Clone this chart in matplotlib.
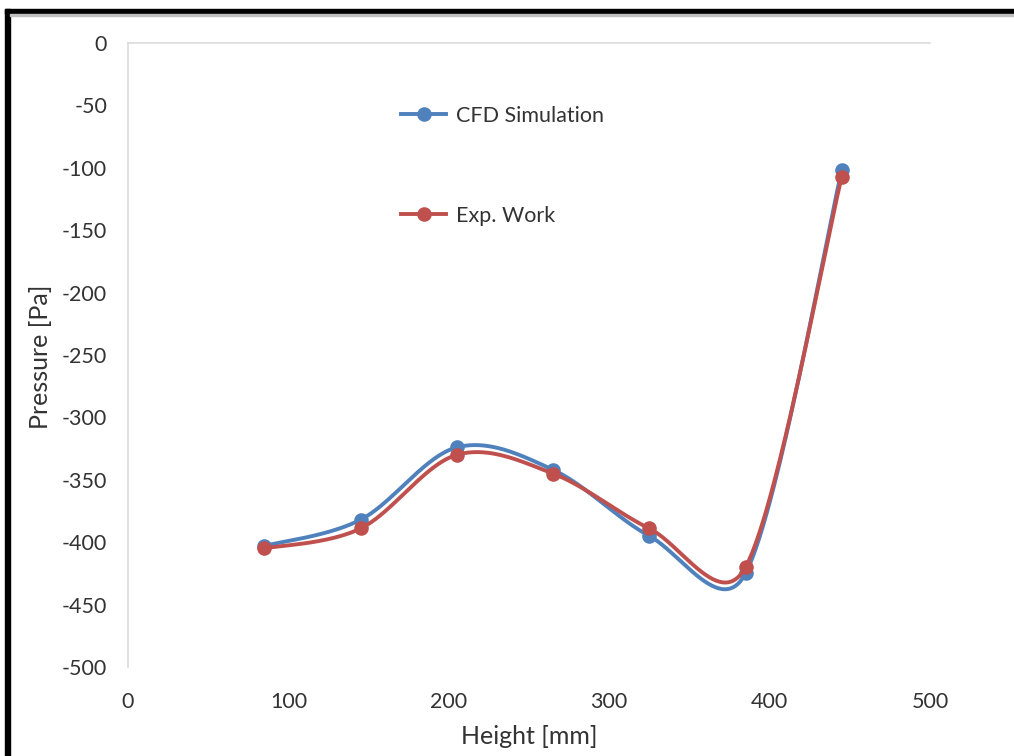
import numpy as np
import matplotlib
matplotlib.use("Agg")
import matplotlib.pyplot as plt
from matplotlib.patches import Rectangle
from matplotlib.lines import Line2D

height_mm = [85, 145, 205, 265, 325, 385, 445]
cfd_pa = [-403, -382, -324, -342, -395, -425, -102]
exp_pa = [-405, -389, -330, -345, -389, -420, -107]

x_ticks = [0, 100, 200, 300, 400, 500]
y_ticks = [0, -50, -100, -150, -200, -250, -300, -350, -400, -450, -500]

BLUE = "#4F81BD"
RED = "#C0504D"
TEXT = "#333333"
FONT = "Lato"
FS = 15.5
FS_TITLE = 18

W, H = 1014, 756
fig = plt.figure(figsize=(W / 100, H / 100), dpi=100)
ax = fig.add_axes([128 / W, (H - 667) / H, (930 - 128) / W, (667 - 43) / H])
ax.set_xlim(0, 500)
ax.set_ylim(-500, 0)


def smooth_path(xs, ys, ax, n=60):
    """Bezier smoothing in screen space, spreadsheet style (tangent clamped
    to half the segment length)."""
    pts = ax.transData.transform(np.column_stack([xs, ys]))
    m = len(pts)
    out = [pts[0]]
    for i in range(m - 1):
        p0 = pts[i - 1] if i > 0 else pts[i]
        p1 = pts[i]
        p2 = pts[i + 1]
        p3 = pts[i + 2] if i + 2 < m else pts[i + 1]
        d12 = np.linalg.norm(p2 - p1)
        t1 = p2 - p0
        t2 = p3 - p1
        n1 = np.linalg.norm(t1)
        n2 = np.linalg.norm(t2)
        c1 = p1 + (t1 / n1 * min(n1 / 6, d12 / 2) if n1 > 0 else 0)
        c2 = p2 - (t2 / n2 * min(n2 / 6, d12 / 2) if n2 > 0 else 0)
        t = np.linspace(0, 1, n)[1:, None]
        seg = ((1 - t) ** 3) * p1 + 3 * ((1 - t) ** 2) * t * c1 \
            + 3 * (1 - t) * t ** 2 * c2 + t ** 3 * p2
        out.extend(seg)
    out = np.array(out)
    data = ax.transData.inverted().transform(out)
    return data[:, 0], data[:, 1]


for ys, col, z in [(cfd_pa, BLUE, 3), (exp_pa, RED, 4)]:
    sx, sy = smooth_path(height_mm, ys, ax)
    ax.plot(sx, sy, color=col, lw=2.8, zorder=z, solid_capstyle="round")
    ax.plot(height_mm, ys, "o", color=col, ms=10.5, zorder=z + 0.1,
            markeredgewidth=0)

ax.set_xticks(x_ticks)
ax.set_yticks(y_ticks)
ax.set_xticklabels([str(v) for v in x_ticks], fontsize=FS, color=TEXT,
                   family=FONT)
ax.set_yticklabels([str(v) for v in y_ticks], fontsize=FS, color=TEXT,
                   family=FONT)
ax.tick_params(axis="both", length=0)
ax.tick_params(axis="x", pad=18)
ax.tick_params(axis="y", pad=15)

for side in ["bottom", "right"]:
    ax.spines[side].set_visible(False)
for side in ["top", "left"]:
    ax.spines[side].set_color("#D9D9D9")
    ax.spines[side].set_linewidth(1.1)

fig.text(529 / W, 1 - 736 / H, "Height [mm]", ha="center", va="center",
         fontsize=FS_TITLE, color=TEXT, family=FONT)
fig.text(40 / W, 1 - 357 / H, "Pressure [Pa]", ha="center", va="center",
         rotation=90, fontsize=FS_TITLE, color=TEXT, family=FONT)

handles = [
    Line2D([], [], color=BLUE, lw=2.8, marker="o", ms=10.5, markeredgewidth=0),
    Line2D([], [], color=RED, lw=2.8, marker="o", ms=10.5, markeredgewidth=0),
]
leg = ax.legend(handles, ["CFD Simulation", "Exp. Work"],
                loc="upper left", bbox_to_anchor=(401 / W, 1 - 106 / H),
                bbox_transform=fig.transFigure, frameon=False,
                prop={"family": FONT, "size": FS}, labelspacing=3.7,
                handlelength=2.1, handletextpad=0.45, borderaxespad=0,
                borderpad=0)
for t in leg.get_texts():
    t.set_color(TEXT)

# frame around the figure: heavy top and left edges
fig.patches.append(Rectangle((5 / W, 0), 5 / W, (H - 9) / H,
                             transform=fig.transFigure, color="black",
                             zorder=10))
fig.patches.append(Rectangle((5 / W, (H - 14) / H), (W - 5) / W, 5 / H,
                             transform=fig.transFigure, color="black",
                             zorder=10))
fig.patches.append(Rectangle((10 / W, (H - 15.5) / H), (W - 10) / W, 1.5 / H,
                             transform=fig.transFigure, color="#BFBFBF",
                             zorder=10))

fig.savefig("out.png", dpi=100)
